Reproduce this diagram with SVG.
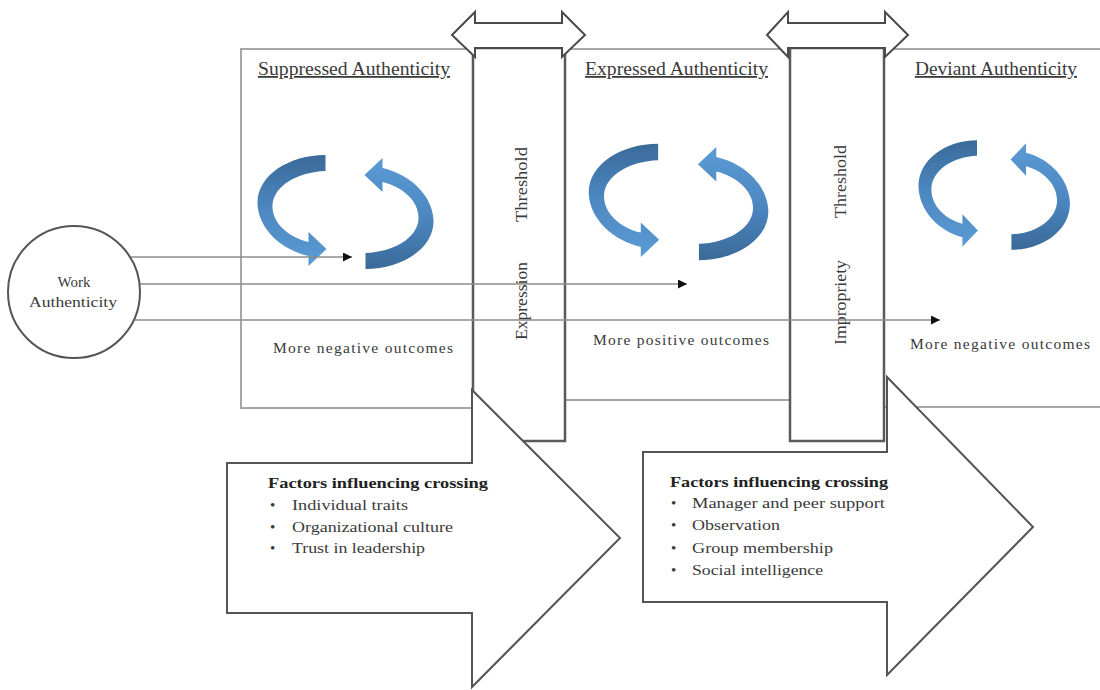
<svg xmlns="http://www.w3.org/2000/svg" width="1100" height="690" viewBox="0 0 1100 690">
  <style>
    .box { fill: #ffffff; stroke: #a6a6a6; stroke-width: 2; }
    .thr { fill: #ffffff; stroke: #5a5a5a; stroke-width: 2.5; }
    .dbl { fill: #ffffff; stroke: #4a4a4a; stroke-width: 2; stroke-linejoin: miter; }
    .big { fill: #ffffff; stroke: #555555; stroke-width: 2; stroke-linejoin: miter; }
    .t { font-family: "Liberation Serif", "Times New Roman", serif; fill: #3a3a3a; }
    .hdr { font-size: 18px; text-decoration: underline; }
    .out { font-size: 15.5px; }
    .vt { font-size: 17px; }
    .fh { font-size: 15px; font-weight: bold; fill: #222222; }
    .fi { font-size: 15px; }
    .conn { stroke: #8c8c8c; stroke-width: 1.6; fill: none; marker-end: url(#ah); }
  </style>
  <defs>
    <marker id="ah" viewBox="0 0 10 10" refX="10" refY="5" markerWidth="10" markerHeight="9" markerUnits="userSpaceOnUse" orient="auto">
      <path d="M0,0 L10,5 L0,10 Z" fill="#111111"/>
    </marker>
    <linearGradient id="bg" x1="0" y1="0" x2="0" y2="1">
      <stop offset="0" stop-color="#3a6a98"/>
      <stop offset="0.5" stop-color="#4d88c2"/>
      <stop offset="1" stop-color="#5b9bd5"/>
    </linearGradient>
    <path id="carrow" d="M -18,-57 C -55,-57 -87,-36 -86,-8 C -85,17 -62,38 -35,44 L -35,54 L -17,37 L -35,20 L -35,30 C -56,25 -72,10 -71,-7 C -70,-26 -46,-40 -18,-41 Z" fill="url(#bg)"/>
    <g id="cycle">
      <use href="#carrow"/>
      <use href="#carrow" transform="translate(4,0) rotate(180)"/>
    </g>
  </defs>

  <!-- state boxes -->
  <g id="suppressed">
    <rect class="box" x="241" y="49" width="232" height="359"/>
    <text class="t hdr" x="258" y="75" textLength="192" lengthAdjust="spacingAndGlyphs">Suppressed Authenticity</text>
    <use href="#cycle" transform="translate(343.5,212)"/>
    <text class="t out" x="273" y="353" textLength="180" lengthAdjust="spacing">More negative  outcomes</text>
  </g>
  <g id="expressed">
    <rect class="box" x="565" y="49" width="225" height="351"/>
    <text class="t hdr" x="585" y="75" textLength="183" lengthAdjust="spacingAndGlyphs">Expressed Authenticity</text>
    <use href="#cycle" transform="translate(676.5,202) scale(1.02,1.02)"/>
    <text class="t out" x="593" y="345" textLength="176" lengthAdjust="spacing">More positive  outcomes</text>
  </g>
  <g id="deviant">
    <rect class="box" x="884" y="49" width="230" height="358"/>
    <text class="t hdr" x="915" y="75" textLength="162" lengthAdjust="spacingAndGlyphs">Deviant Authenticity</text>
    <use href="#cycle" transform="translate(992.5,195) scale(0.86,0.96)"/>
    <text class="t out" x="910" y="349" textLength="180" lengthAdjust="spacing">More negative  outcomes</text>
  </g>

  <!-- thresholds -->
  <g id="threshold1">
    <rect class="thr" x="473" y="48" width="92" height="393"/>
    <path class="dbl" d="M452,35 L475,12 L475,23 L562,23 L562,12 L585,35 L562,57 L562,48 L475,48 L475,57 Z"/>
    <text class="t vt" text-anchor="middle" transform="translate(527,184.5) rotate(-90)" textLength="75" lengthAdjust="spacingAndGlyphs">Threshold</text>
    <text class="t vt" text-anchor="middle" transform="translate(527,301) rotate(-90)" textLength="78" lengthAdjust="spacingAndGlyphs">Expression</text>
  </g>
  <g id="threshold2">
    <rect class="thr" x="790" y="48" width="94" height="393"/>
    <path class="dbl" d="M767,35 L788,12 L788,23 L885,23 L885,12 L908,35 L885,57 L885,48 L788,48 L788,57 Z"/>
    <text class="t vt" text-anchor="middle" transform="translate(846,181.5) rotate(-90)" textLength="73" lengthAdjust="spacingAndGlyphs">Threshold</text>
    <text class="t vt" text-anchor="middle" transform="translate(846,302.5) rotate(-90)" textLength="85" lengthAdjust="spacingAndGlyphs">Impropriety</text>
  </g>

  <!-- work authenticity -->
  <g id="work">
    <circle cx="74" cy="292" r="66" fill="#ffffff" stroke="#555555" stroke-width="2"/>
    <text class="t" x="74" y="287" text-anchor="middle" font-size="15">Work</text>
    <text class="t" x="73" y="307" text-anchor="middle" font-size="15" textLength="88" lengthAdjust="spacingAndGlyphs">Authenticity</text>
  </g>

  <!-- connectors -->
  <g id="connectors">
    <line class="conn" x1="131" y1="257" x2="352" y2="257"/>
    <line class="conn" x1="140" y1="284" x2="687" y2="284"/>
    <line class="conn" x1="135" y1="320" x2="940" y2="320"/>
  </g>

  <!-- factor arrows -->
  <g id="factors1">
    <path class="big" d="M227,463 L472,463 L472,390 L620,538 L472,687 L472,613 L227,613 Z"/>
    <text class="t fh" x="268" y="488" textLength="220" lengthAdjust="spacingAndGlyphs">Factors influencing crossing</text>
    <text class="t fi" x="270" y="510">•</text>
    <text class="t fi" x="292" y="510" textLength="116" lengthAdjust="spacingAndGlyphs">Individual  traits</text>
    <text class="t fi" x="270" y="532">•</text>
    <text class="t fi" x="292" y="532" textLength="161" lengthAdjust="spacingAndGlyphs">Organizational  culture</text>
    <text class="t fi" x="270" y="553">•</text>
    <text class="t fi" x="292" y="553" textLength="133" lengthAdjust="spacingAndGlyphs">Trust in leadership</text>
  </g>
  <g id="factors2">
    <path class="big" d="M643,452 L887,452 L887,377 L1033,527 L887,675 L887,602 L643,602 Z"/>
    <text class="t fh" x="670" y="487" textLength="218" lengthAdjust="spacingAndGlyphs">Factors influencing crossing</text>
    <text class="t fi" x="671" y="508">•</text>
    <text class="t fi" x="692" y="508" textLength="193" lengthAdjust="spacingAndGlyphs">Manager  and peer  support</text>
    <text class="t fi" x="671" y="530">•</text>
    <text class="t fi" x="692" y="530" textLength="88" lengthAdjust="spacingAndGlyphs">Observation</text>
    <text class="t fi" x="671" y="553">•</text>
    <text class="t fi" x="692" y="553" textLength="141" lengthAdjust="spacingAndGlyphs">Group membership</text>
    <text class="t fi" x="671" y="575">•</text>
    <text class="t fi" x="692" y="575" textLength="131" lengthAdjust="spacingAndGlyphs">Social intelligence</text>
  </g>
</svg>
